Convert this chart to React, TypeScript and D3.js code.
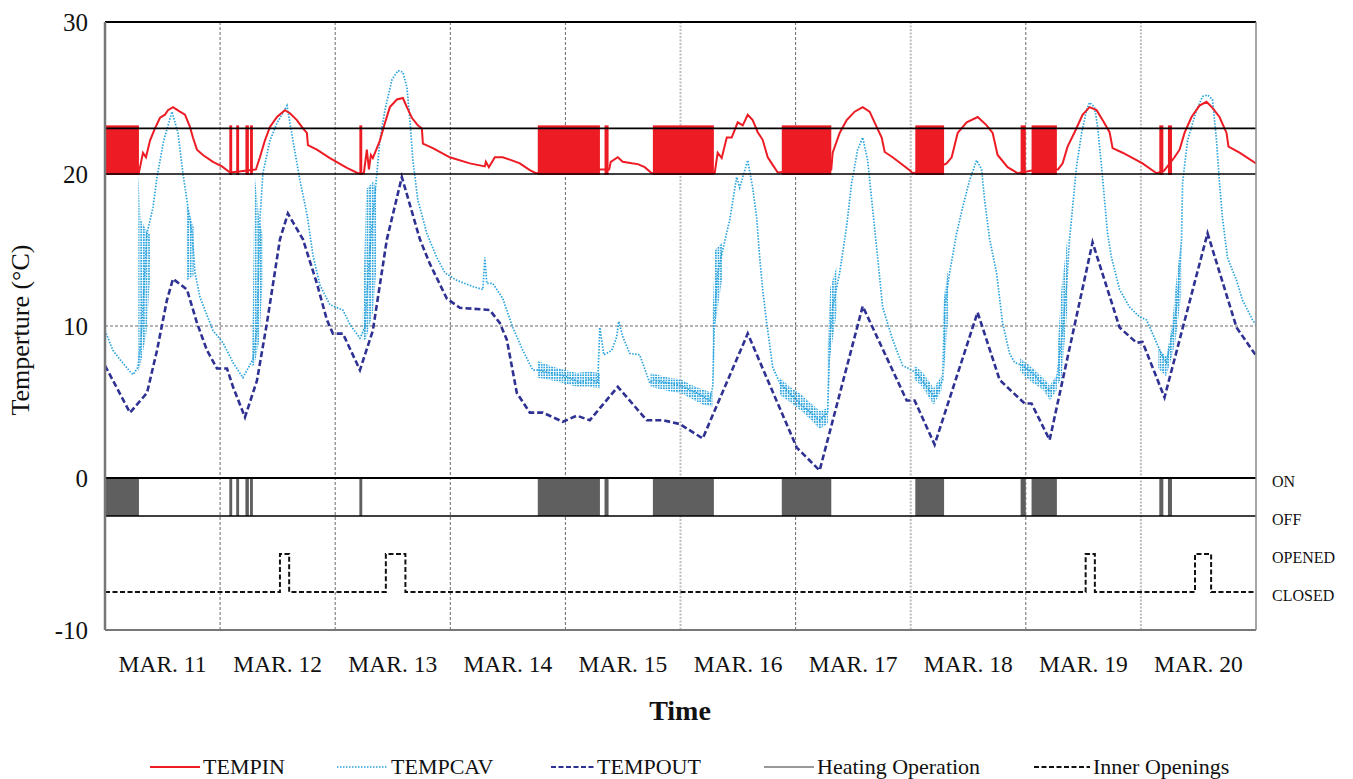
import React from 'react';
import * as d3 from 'd3';

// ---------- DATA ----------
const dayLabels = ['MAR. 11', 'MAR. 12', 'MAR. 13', 'MAR. 14', 'MAR. 15', 'MAR. 16', 'MAR. 17', 'MAR. 18', 'MAR. 19', 'MAR. 20'];
const yTicks = [30, 20, 10, 0, -10];
const setpointLines = [23, 20];
const stateLabels: [string, number][] = [['ON', 0], ['OFF', -2.5], ['OPENED', -5], ['CLOSED', -7.5]];

// [day, °C]
const tempIn: [number, number][] = [
  [0, 21.5], [0.295, 20.1], [0.33, 21.4], [0.356, 21.1], [0.391, 22.2], [0.434, 23.0], [0.478, 23.7], [0.521, 23.9], [0.547, 24.2], [0.591, 24.4],
  [0.651, 24.1], [0.695, 23.9], [0.738, 23.1], [0.764, 22.4], [0.799, 21.6], [0.851, 21.25], [0.938, 20.8], [1.016, 20.5], [1.086, 20.1],
  [1.2, 20.2], [1.311, 20.3], [1.346, 21.1], [1.389, 22.2], [1.433, 23.1], [1.494, 23.75], [1.563, 24.2], [1.607, 24.0], [1.667, 23.55], [1.72, 23.0],
  [1.754, 22.7], [1.763, 21.9], [1.841, 21.6], [1.954, 21.05], [2.102, 20.4], [2.197, 20.05], [2.249, 20.05], [2.275, 21.6], [2.293, 20.3],
  [2.31, 21.25], [2.327, 21.05], [2.388, 22.2], [2.432, 23.35], [2.475, 24.4], [2.536, 24.9], [2.588, 25.0], [2.623, 24.4], [2.666, 23.7],
  [2.718, 23.2], [2.753, 23.0], [2.762, 22.0], [2.848, 21.7], [2.996, 21.1], [3.17, 20.7], [3.3, 20.5], [3.309, 20.8], [3.335, 20.45],
  [3.387, 21.1], [3.456, 21.1], [3.535, 20.9], [3.604, 20.7], [3.691, 20.25], [3.743, 20.05], [4.0, 20.3], [4.38, 20.3], [4.394, 20.8],
  [4.455, 21.1], [4.498, 20.8], [4.577, 20.7], [4.629, 20.65], [4.689, 20.45], [4.75, 20.05], [5.0, 20.3], [5.297, 20.05], [5.323, 21.4],
  [5.358, 21.05], [5.402, 22.4], [5.445, 22.4], [5.497, 23.4], [5.541, 23.2], [5.584, 23.9], [5.627, 23.55], [5.671, 22.75], [5.714, 22.25],
  [5.758, 21.1], [5.801, 20.6], [5.845, 20.1], [6.1, 20.3], [6.31, 20.3], [6.322, 21.4], [6.383, 22.7], [6.444, 23.55], [6.513, 24.1], [6.583, 24.4],
  [6.643, 24.1], [6.704, 23.1], [6.748, 22.4], [6.774, 21.45], [6.843, 21.1], [6.991, 20.25], [7.017, 20.05], [7.2, 20.3], [7.312, 20.7],
  [7.356, 21.1], [7.408, 22.7], [7.486, 23.4], [7.582, 23.75], [7.66, 23.2], [7.712, 22.7], [7.755, 21.25], [7.842, 20.45], [7.929, 20.05],
  [8.1, 20.3], [8.28, 20.3], [8.32, 20.7], [8.363, 21.8], [8.424, 22.75], [8.493, 23.9], [8.554, 24.4], [8.615, 24.2], [8.667, 23.55],
  [8.728, 22.75], [8.754, 21.7], [8.841, 21.4], [9.014, 20.7], [9.136, 20.05], [9.2, 20.2], [9.292, 21.1], [9.336, 21.6], [9.379, 22.7],
  [9.44, 23.75], [9.509, 24.5], [9.57, 24.75], [9.622, 24.35], [9.683, 23.75], [9.744, 22.7], [9.761, 21.8], [9.857, 21.4], [10.0, 20.7],
];

const tempCav: [number, number][] = [
  [0, 9.7], [0.069, 8.4], [0.13, 7.8], [0.217, 7.0], [0.243, 6.8], [0.287, 7.3], [0.313, 9.1], [0.365, 16.1], [0.417, 17.8], [0.452, 19.8],
  [0.51, 22.2], [0.582, 24.1], [0.634, 22.7], [0.677, 20.05], [0.721, 17.8], [0.756, 16.1], [0.782, 13.5], [0.825, 11.9], [0.938, 9.7],
  [1.025, 8.9], [1.112, 7.6], [1.198, 6.6], [1.285, 7.8], [1.32, 9.7], [1.346, 17.0], [1.372, 20.05], [1.433, 22.2], [1.494, 23.35],
  [1.581, 24.5], [1.633, 22.2], [1.693, 19.6], [1.754, 17.4], [1.806, 14.7], [1.867, 12.7], [1.954, 11.4], [2.067, 11.05], [2.128, 10.1],
  [2.215, 9.2], [2.258, 9.9], [2.301, 15.0], [2.388, 22.2], [2.432, 24.2], [2.493, 26.2], [2.545, 26.8], [2.588, 26.7], [2.623, 25.7],
  [2.649, 23.55], [2.675, 20.9], [2.718, 18.3], [2.796, 16.1], [2.883, 14.5], [2.953, 13.5], [3.057, 13.0], [3.196, 12.6], [3.283, 12.4],
  [3.3, 14.5], [3.317, 12.8], [3.37, 12.8], [3.456, 11.8], [3.543, 9.9], [3.63, 8.4], [3.717, 7.1], [3.76, 7.1], [3.995, 6.7], [4.125, 6.3],
  [4.212, 6.5], [4.281, 6.3], [4.299, 9.9], [4.334, 8.1], [4.403, 8.4], [4.446, 9.3], [4.464, 10.3], [4.498, 9.3], [4.559, 8.2], [4.646, 8.1],
  [4.733, 6.25], [4.759, 6.45], [4.993, 6.1], [5.167, 5.5], [5.254, 5.1], [5.28, 6.0], [5.297, 10.9], [5.323, 13.5], [5.367, 15.0],
  [5.428, 17.0], [5.488, 19.8], [5.514, 19.1], [5.584, 20.9], [5.627, 19.1], [5.662, 17.1], [5.688, 14.5], [5.714, 12.4], [5.749, 10.2],
  [5.801, 7.3], [5.862, 6.25], [6.036, 4.9], [6.209, 3.8], [6.279, 4.3], [6.296, 8.9], [6.322, 11.25], [6.383, 13.5], [6.444, 16.6],
  [6.487, 19.4], [6.539, 21.6], [6.583, 22.4], [6.626, 20.9], [6.661, 18.3], [6.713, 14.5], [6.756, 11.25], [6.843, 9.1], [6.93, 7.4],
  [7.008, 7.1], [7.052, 6.9], [7.208, 5.3], [7.278, 6.45], [7.295, 11.25], [7.338, 13.5], [7.399, 16.1], [7.451, 17.8], [7.512, 19.6],
  [7.573, 20.9], [7.616, 20.3], [7.642, 18.3], [7.686, 15.7], [7.746, 13.5], [7.798, 10.2], [7.859, 8.2], [7.903, 7.6], [7.972, 7.4],
  [8.059, 6.9], [8.207, 5.7], [8.268, 6.45], [8.32, 9.7], [8.354, 12.6], [8.38, 15.7], [8.441, 20.5], [8.485, 22.7], [8.528, 24.2],
  [8.554, 24.7], [8.597, 24.4], [8.624, 23.1], [8.658, 20.5], [8.684, 18.3], [8.71, 16.1], [8.745, 14.5], [8.815, 12.4], [8.901, 11.25],
  [8.988, 10.6], [9.049, 10.4], [9.136, 8.9], [9.188, 8.0], [9.223, 7.6], [9.249, 8.6], [9.275, 9.5], [9.318, 11.7], [9.353, 15.7],
  [9.362, 19.4], [9.405, 22.2], [9.483, 24.2], [9.535, 25.1], [9.579, 25.2], [9.622, 24.9], [9.657, 22.2], [9.683, 19.4], [9.709, 17.1],
  [9.752, 14.5], [9.831, 13.0], [9.883, 11.7], [9.97, 10.4], [10.0, 10.1],
];

const tempOut: [number, number][] = [
  [0, 7.4], [0.217, 4.3], [0.365, 5.6], [0.452, 8.4], [0.538, 11.7], [0.591, 13.1], [0.712, 12.4], [0.799, 10.2], [0.886, 8.4], [0.973, 7.2],
  [1.06, 7.2], [1.112, 6.0], [1.216, 4.0], [1.32, 6.4], [1.407, 10.2], [1.52, 15.7], [1.589, 17.4], [1.72, 15.7], [1.841, 12.8], [1.928, 10.4],
  [1.98, 9.5], [2.067, 9.5], [2.215, 7.1], [2.327, 9.7], [2.449, 15.7], [2.579, 19.8], [2.736, 15.7], [2.822, 14.1], [2.97, 11.8],
  [3.083, 11.2], [3.343, 11.05], [3.43, 10.2], [3.491, 9.1], [3.578, 5.6], [3.691, 4.3], [3.804, 4.3], [3.977, 3.7], [4.099, 4.1],
  [4.212, 3.8], [4.455, 6.0], [4.707, 3.8], [4.846, 3.8], [4.993, 3.55], [5.193, 2.6], [5.584, 9.5], [6.01, 2.0], [6.209, 0.5],
  [6.583, 11.3], [6.965, 5.1], [7.034, 5.1], [7.208, 2.2], [7.581, 10.9], [7.773, 6.45], [7.99, 4.9], [8.05, 4.9], [8.207, 2.5],
  [8.58, 15.5], [8.815, 9.9], [8.962, 8.9], [9.014, 8.95], [9.205, 5.3], [9.579, 16.1], [9.831, 9.9], [9.996, 8.1],
];

// noisy cavity-temperature bands: [day, low °C, high °C]
const cavBandDay11: [number, number, number][] = [[0.29, 7.0, 20.0], [0.31, 7.5, 17.0], [0.36, 9.5, 16.3], [0.39, 13.0, 16.0]];
const cavBandDay11b: [number, number, number][] = [[0.71, 13.0, 18.0], [0.77, 13.3, 16.5]];
const cavBandDay12: [number, number, number][] = [[1.28, 7.3, 9.0], [1.3, 7.5, 20.0], [1.34, 9.0, 17.0], [1.37, 13.0, 16.0]];
const cavBandDay13: [number, number, number][] = [[2.24, 9.0, 11.0], [2.27, 9.2, 19.0], [2.33, 11.0, 19.5], [2.36, 14.0, 19.0]];
const cavBandDay14: [number, number, number][] = [[3.76, 6.6, 7.7], [3.9, 6.4, 7.3], [4.0, 6.2, 7.1], [4.1, 6.0, 6.9], [4.2, 6.0, 7.0], [4.3, 5.9, 6.9]];
const cavBandDay15: [number, number, number][] = [[4.74, 6.0, 6.9], [4.9, 5.7, 6.6], [5.0, 5.6, 6.5], [5.1, 5.2, 6.1], [5.2, 4.8, 5.8], [5.28, 4.7, 5.6]];
const cavBandDay16a: [number, number, number][] = [[5.28, 5.5, 11.0], [5.3, 10.0, 15.0], [5.36, 13.0, 15.5]];
const cavBandDay16b: [number, number, number][] = [[5.86, 5.5, 6.6], [5.95, 5.0, 6.0], [6.05, 4.4, 5.5], [6.15, 3.7, 4.8], [6.21, 3.2, 4.4], [6.28, 3.6, 4.6]];
const cavBandDay17a: [number, number, number][] = [[6.28, 4.5, 9.0], [6.3, 8.0, 12.5], [6.36, 11.0, 14.0]];
const cavBandDay17b: [number, number, number][] = [[7.03, 6.5, 7.4], [7.1, 6.0, 7.0], [7.2, 4.8, 5.9], [7.27, 5.8, 6.8]];
const cavBandDay18a: [number, number, number][] = [[7.28, 6.0, 11.5], [7.33, 11.0, 14.0]];
const cavBandDay18b: [number, number, number][] = [[7.95, 7.0, 7.9], [8.05, 6.3, 7.3], [8.15, 5.8, 6.6], [8.21, 5.1, 6.1], [8.27, 5.8, 6.8]];
const cavBandDay19a: [number, number, number][] = [[8.28, 6.2, 9.0], [8.31, 6.5, 12.5], [8.36, 11.0, 15.7]];
const cavBandDay20: [number, number, number][] = [[9.15, 7.2, 8.5], [9.22, 6.7, 8.0], [9.27, 8.0, 10.0], [9.3, 9.0, 12.5], [9.35, 12.0, 15.7]];
const cavBands = [cavBandDay11, cavBandDay11b, cavBandDay12, cavBandDay13, cavBandDay14, cavBandDay15, cavBandDay16a, cavBandDay16b,
  cavBandDay17a, cavBandDay17b, cavBandDay18a, cavBandDay18b, cavBandDay19a, cavBandDay20];

// heating ON intervals [start day, end day]; TEMPIN cycles 20–23 °C during them
const heatingOn: [number, number][] = [
  [0, 0.295], [1.08, 1.105], [1.14, 1.165], [1.22, 1.25], [1.26, 1.285], [2.21, 2.235], [3.76, 4.3], [4.34, 4.375],
  [4.76, 5.29], [5.88, 6.31], [7.04, 7.29], [7.955, 8.0], [8.05, 8.27], [9.16, 9.195], [9.235, 9.27],
];
const cyclingBand: [number, number] = [20, 23.2];
const heatingLevels: [number, number] = [0, -2.5];

// inner openings OPEN intervals
const openings: [number, number][] = [[1.52, 1.6], [2.44, 2.61], [8.52, 8.6], [9.47, 9.61]];
const openLevels = { closed: -7.5, opened: -5 };

// ---------- CHART ----------
const W = 1353, H = 779;
const x = d3.scaleLinear().domain([0, 10]).range([105, 1256]);
const y = d3.scaleLinear().domain([-10, 30]).range([630, 22]);

const SERIF = "'Liberation Serif', 'Times New Roman', 'DejaVu Serif', serif";
const RED = '#ED1C24';
const CAV = '#29A3DD';
const OUT = '#2E3192';

export default function App() {
  const line = d3.line<[number, number]>().x(d => x(d[0])).y(d => y(d[1]));
  const band = d3.area<[number, number, number]>().x(d => x(d[0])).y0(d => y(d[1])).y1(d => y(d[2]));

  const openPts: [number, number][] = [[0, openLevels.closed]];
  openings.forEach(([a, b]) => {
    openPts.push([a, openLevels.closed], [a, openLevels.opened], [b, openLevels.opened], [b, openLevels.closed]);
  });
  openPts.push([10, openLevels.closed]);

  const days = d3.range(0, 11);
  const lightGrid = new Set([5, 7, 9]);
  const [x0, x1] = x.range();

  const legendY = 767;
  const legend = [
    { label: 'TEMPIN', x1: 150, x2: 200, stroke: RED, dash: undefined, w: 2 },
    { label: 'TEMPCAV', x1: 337, x2: 388, stroke: CAV, dash: '1.5,1.5', w: 1.5 },
    { label: 'TEMPOUT', x1: 551, x2: 594, stroke: OUT, dash: '5,2.5', w: 2.2 },
    { label: 'Heating Operation', x1: 764, x2: 814, stroke: '#777', dash: undefined, w: 1.5 },
    { label: 'Inner Openings', x1: 1034, x2: 1090, stroke: '#111', dash: '5,2.5', w: 2 },
  ];
  const ts = { fontFamily: SERIF };

  return (
    <svg width={W} height={H} style={{ position: 'absolute', left: 0, top: 0, background: '#fff', fontFamily: SERIF }}>
      <defs>
        <pattern id="cavdots" width="2.6" height="2.6" patternUnits="userSpaceOnUse">
          <rect width="1.7" height="1.7" fill={CAV} />
        </pattern>
        <clipPath id="plotclip">
          <rect x={x0} y={y(30)} width={x1 - x0} height={y(-10) - y(30)} />
        </clipPath>
      </defs>

      {days.slice(1, 10).map(d => (
        <line key={'vg' + d} x1={x(d)} x2={x(d)} y1={y(30)} y2={y(-10)}
          stroke={lightGrid.has(d) ? '#bdbdbd' : '#6a6a6a'} strokeWidth={lightGrid.has(d) ? 2 : 1}
          strokeDasharray={lightGrid.has(d) ? '2,1.5' : '3,2'} />
      ))}
      <line x1={x0} x2={x1} y1={y(10)} y2={y(10)} stroke="#6a6a6a" strokeWidth={1} strokeDasharray="3,2" />

      <g clipPath="url(#plotclip)">
        {heatingOn.map(([a, b], i) => (
          <rect key={'h' + i} x={x(a)} width={Math.max(1.5, x(b) - x(a))} y={y(heatingLevels[0])}
            height={y(heatingLevels[1]) - y(heatingLevels[0])} fill="#5f5f5f" />
        ))}
        {heatingOn.map(([a, b], i) => (
          <rect key={'c' + i} x={x(a)} width={Math.max(1.5, x(b) - x(a))} y={y(cyclingBand[1])}
            height={y(cyclingBand[0]) - y(cyclingBand[1]) + 1} fill={RED} />
        ))}
        {cavBands.map((b, i) => (
          <path key={'b' + i} d={band(b) || ''} fill="url(#cavdots)" />
        ))}
        <path d={line(tempCav) || ''} fill="none" stroke={CAV} strokeWidth={1.7} strokeDasharray="1.5,1.5" />
        <path d={line(tempOut) || ''} fill="none" stroke={OUT} strokeWidth={2.6} strokeDasharray="6,3" />
        <path d={line(tempIn) || ''} fill="none" stroke={RED} strokeWidth={2} />
        <path d={line(openPts) || ''} fill="none" stroke="#111" strokeWidth={2} strokeDasharray="5,2.5" />
      </g>

      {setpointLines.map(v => (
        <line key={'sp' + v} x1={x0} x2={x1} y1={y(v)} y2={y(v)} stroke="#000" strokeWidth={1.6} />
      ))}
      <line x1={x0} x2={x1} y1={y(heatingLevels[0])} y2={y(heatingLevels[0])} stroke="#000" strokeWidth={2} />
      <line x1={x0} x2={x1} y1={y(heatingLevels[1])} y2={y(heatingLevels[1])} stroke="#000" strokeWidth={1.6} />

      <line x1={x0} x2={x1} y1={y(30)} y2={y(30)} stroke="#000" strokeWidth={2} />
      <line x1={x0} x2={x1} y1={y(-10)} y2={y(-10)} stroke="#777" strokeWidth={2} />
      <line x1={x0} x2={x0} y1={y(30)} y2={y(-10)} stroke="#777" strokeWidth={2.5} />
      <line x1={x1} x2={x1} y1={y(30)} y2={y(-10)} stroke="#888" strokeWidth={1.5} />

      {yTicks.map(t => (
        <text key={'yt' + t} style={ts} x={88} y={y(t)} dy="0.35em" textAnchor="end" fontSize={25} fill="#111">{t}</text>
      ))}
      <text style={ts} transform={`translate(29,${330}) rotate(-90)`} textAnchor="middle" fontSize={26} fill="#111">Temperture (°C)</text>

      {stateLabels.map(([s, v]) => (
        <text key={s} style={ts} x={1272} y={y(v) + 3} dy="0.35em" fontSize={16} fill="#111">{s}</text>
      ))}

      {dayLabels.map((l, i) => (
        <text key={l} style={ts} x={x(i + 0.5)} y={672} textAnchor="middle" fontSize={23.5} fill="#111">{l}</text>
      ))}
      <text style={ts} x={680} y={720} textAnchor="middle" fontSize={28} fontWeight="bold" fill="#111">Time</text>

      {legend.map(l => (
        <g key={l.label}>
          <line x1={l.x1} x2={l.x2} y1={legendY} y2={legendY} stroke={l.stroke} strokeWidth={l.w} strokeDasharray={l.dash} />
          <text style={ts} x={l.x2 + 3} y={legendY} dy="0.33em" fontSize={22} fill="#111">{l.label}</text>
        </g>
      ))}
    </svg>
  );
}
